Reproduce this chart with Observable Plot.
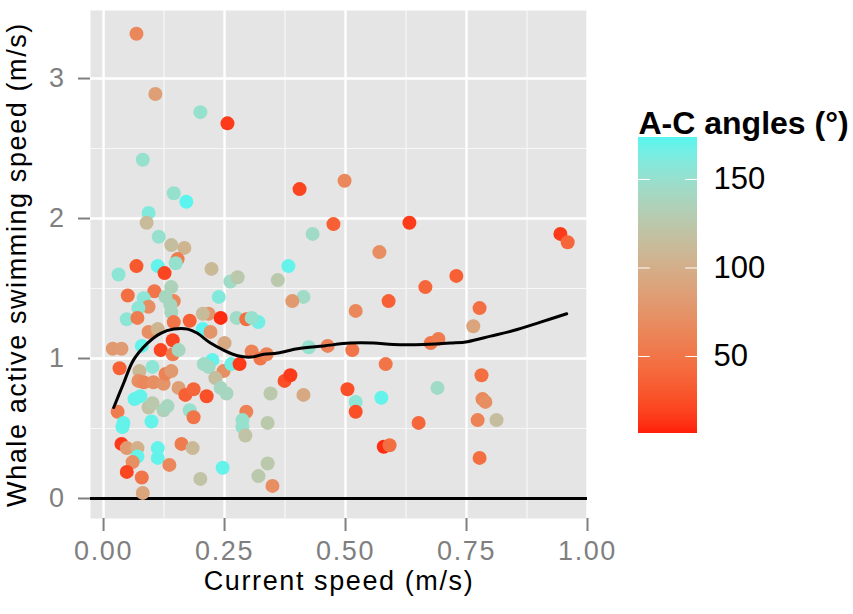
<!DOCTYPE html>
<html>
<head>
<meta charset="utf-8">
<script src="https://cdn.jsdelivr.net/npm/d3@7"></script>
<script src="https://cdn.jsdelivr.net/npm/@observablehq/plot@0.6"></script>
<style>
  html, body { margin: 0; padding: 0; background: white; }
  #wrap { position: relative; width: 853px; height: 614px; overflow: hidden; }
  #main { position: absolute; left: 0; top: 0; }
  #legend { position: absolute; left: 600px; top: 0; }
  .mainplot text { letter-spacing: 1.6px; }
</style>
</head>
<body>
<div id="wrap"><div id="main"></div><div id="legend"></div></div>
<script>
// Current speed (m/s)
const speed = [
0.068,0.107,0.200,0.256,0.081,0.145,0.171,0.405,0.498,0.475,
0.432,0.632,0.570,0.944,0.959,0.093,0.089,0.114,0.140,0.167,
0.153,0.149,0.223,0.068,0.112,0.126,0.031,0.382,0.140,0.262,
0.277,0.360,0.050,0.105,0.083,0.145,0.128,0.093,0.138,0.072,
0.140,0.048,0.070,0.178,0.217,0.205,0.242,0.205,0.221,0.143,
0.093,0.112,0.238,0.413,0.390,0.275,0.295,0.320,0.306,0.145,
0.019,0.037,0.079,0.118,0.143,0.155,0.250,0.225,0.207,0.217,
0.248,0.264,0.281,0.306,0.324,0.337,0.033,0.074,0.101,0.072,
0.083,0.103,0.124,0.128,0.140,0.155,0.169,0.186,0.213,0.231,
0.242,0.254,0.345,0.374,0.386,0.413,0.064,0.076,0.093,0.101,
0.124,0.132,0.029,0.039,0.041,0.099,0.178,0.186,0.295,0.287,
0.287,0.293,0.339,0.037,0.048,0.070,0.070,0.112,0.112,0.161,
0.184,0.060,0.136,0.048,0.079,0.081,0.200,0.246,0.320,0.339,
0.349,0.521,0.514,0.504,0.521,0.521,0.463,0.424,0.729,0.665,
0.589,0.777,0.764,0.676,0.692,0.583,0.574,0.690,0.781,0.783,
0.789,0.651,0.773,0.812,0.579,0.591,0.777
];
// Whale active swimming speed (m/s)
const swim = [
3.32,2.89,2.76,2.68,2.42,2.18,2.12,2.21,2.27,1.96,
1.89,1.97,1.76,1.89,1.83,2.04,1.97,1.87,1.81,1.79,
1.71,1.68,1.64,1.66,1.66,1.61,1.60,1.66,1.51,1.55,
1.58,1.56,1.45,1.48,1.43,1.41,1.44,1.37,1.38,1.36,
1.33,1.28,1.29,1.27,1.32,1.32,1.29,1.21,1.19,1.13,
1.19,1.21,1.44,1.44,1.41,1.29,1.28,1.26,1.29,1.26,
1.07,1.07,1.09,1.06,1.03,1.06,1.11,0.99,0.96,0.94,
0.91,0.96,0.96,1.05,1.00,1.03,0.93,0.91,0.94,0.84,
0.83,0.83,0.82,0.89,0.91,0.79,0.74,0.78,0.73,0.86,
0.79,0.75,0.75,0.84,0.88,0.74,0.71,0.73,0.65,0.68,
0.63,0.66,0.62,0.51,0.54,0.55,0.63,0.58,0.62,0.56,
0.51,0.45,0.54,0.39,0.36,0.36,0.30,0.36,0.29,0.39,
0.36,0.26,0.24,0.19,0.15,0.04,0.14,0.22,0.16,0.25,
0.09,1.34,1.06,0.78,0.69,0.62,1.09,1.08,1.59,1.51,
1.41,1.36,1.23,1.11,1.14,0.96,0.72,0.79,0.88,0.71,
0.69,0.54,0.56,0.56,0.37,0.38,0.29
];
// A-C angles (degrees)
const angle = [
65,85,150,15,150,150,172,20,65,35,
145,15,70,15,40,160,112,150,115,105,
55,150,110,30,170,20,155,170,135,145,
125,125,45,50,155,65,140,70,140,155,
140,155,55,35,75,112,10,172,75,20,
70,105,160,145,80,145,45,165,150,50,
80,82,170,20,55,140,95,170,145,145,
70,165,15,60,50,60,35,110,155,70,
65,70,75,60,80,85,35,40,25,115,
140,140,125,25,15,95,170,170,120,125,
135,140,55,170,170,170,150,50,60,150,
150,120,125,15,80,100,170,170,170,55,
110,70,65,20,50,90,120,170,125,125,
70,65,50,25,155,25,60,150,35,40,
35,45,90,50,55,50,170,145,45,65,
70,40,60,115,10,45,45
];
// Smoothed fit
const smoothX = [0.021,0.041,0.062,0.091,0.118,0.145,0.174,0.194,0.221,0.248,0.277,0.304,0.331,0.360,0.401,0.455,0.510,0.558,0.599,0.661,0.717,0.752,0.800,0.847,0.903,0.957];
const smoothY = [0.65,0.82,0.99,1.11,1.18,1.21,1.21,1.18,1.11,1.06,1.02,1.01,1.03,1.04,1.07,1.09,1.11,1.11,1.10,1.10,1.11,1.12,1.16,1.20,1.26,1.32];

const xTicks = [0, 0.25, 0.5, 0.75, 1.0];
const xMinor = [0.125, 0.375, 0.625, 0.875];
const yTicks = [0, 1, 2, 3];
const yMinor = [0.5, 1.5, 2.5];
const legendTicks = [50, 100, 150];
const angleDomain = [6.5, 173.7];

const points = speed.map((s, i) => ({speed: s, swim: swim[i], angle: angle[i]}));
const smooth = smoothX.map((x, i) => ({x, y: smoothY[i]}));

const colorOpts = {type: "linear", domain: angleDomain, range: ["#ff1e0a", "#55f6f0"], interpolate: "lab"};
const font = "'Liberation Sans', Arial, sans-serif";

const main = Plot.plot({
  width: 610, height: 614,
  marginLeft: 90, marginRight: 23, marginTop: 10, marginBottom: 96,
  className: "mainplot",
  style: {fontFamily: font, background: "transparent", overflow: "visible"},
  x: {domain: [-0.027, 1.0], label: null},
  y: {domain: [-0.143, 3.486], label: null},
  color: colorOpts,
  marks: [
    Plot.frame({fill: "#e5e5e5", stroke: null}),
    Plot.ruleX(xMinor, {stroke: "#f7f7f7", strokeWidth: 1.2}),
    Plot.ruleY(yMinor, {stroke: "#f7f7f7", strokeWidth: 1.2}),
    Plot.ruleX(xTicks, {stroke: "white", strokeWidth: 2.4}),
    Plot.ruleY(yTicks, {stroke: "white", strokeWidth: 2.4}),
    Plot.ruleY([0], {stroke: "black", strokeWidth: 3}),
    Plot.dot(points, {x: "speed", y: "swim", fill: "angle", r: 7, stroke: null}),
    Plot.line(smooth, {x: "x", y: "y", stroke: "black", strokeWidth: 3, curve: "catmull-rom"}),
    Plot.axisX({ticks: xTicks, tickFormat: d => d.toFixed(2), tickSize: 13, tickPadding: 9,
      stroke: "#7f7f7f", fill: "#7f7f7f", strokeWidth: 2, fontSize: 27, label: null}),
    Plot.axisY({ticks: yTicks, tickFormat: d => String(d), tickSize: 12, tickPadding: 13,
      stroke: "#7f7f7f", fill: "#7f7f7f", strokeWidth: 2, fontSize: 27, label: null}),
    Plot.text(["Current speed (m/s)"], {frameAnchor: "bottom", dy: 71, fontSize: 27, fill: "black"}),
    Plot.text(["Whale active swimming speed (m/s)"], {frameAnchor: "left", dx: -73, rotate: -90, textAnchor: "middle", fontSize: 27, fill: "black"})
  ]
});
document.getElementById("main").appendChild(main);

const steps = d3.range(angleDomain[0], angleDomain[1], 0.5);
const legend = Plot.plot({
  width: 253, height: 614,
  marginLeft: 38, marginRight: 156, marginTop: 137, marginBottom: 181,
  style: {fontFamily: font, background: "transparent", overflow: "visible"},
  x: {domain: [0, 1], axis: null},
  y: {domain: angleDomain, axis: null},
  color: colorOpts,
  marks: [
    Plot.rect(steps, {x1: 0, x2: 1, y1: d => d, y2: d => Math.min(d + 1.2, angleDomain[1]), fill: d => d, shapeRendering: "crispEdges"}),
    Plot.ruleY(legendTicks, {x1: 0, x2: 0.2, stroke: "white", strokeWidth: 1}),
    Plot.ruleY(legendTicks, {x1: 0.8, x2: 1, stroke: "white", strokeWidth: 1}),
    Plot.text(legendTicks, {x: 1, y: d => d, text: d => String(d), dx: 16, textAnchor: "start", fontSize: 31, fill: "black"}),
    Plot.text(["A-C angles (°)"], {frameAnchor: "top-left", lineAnchor: "bottom", dy: -4, textAnchor: "start", fontSize: 32, fontWeight: "bold", fill: "black"})
  ]
});
document.getElementById("legend").appendChild(legend);
</script>
</body>
</html>
